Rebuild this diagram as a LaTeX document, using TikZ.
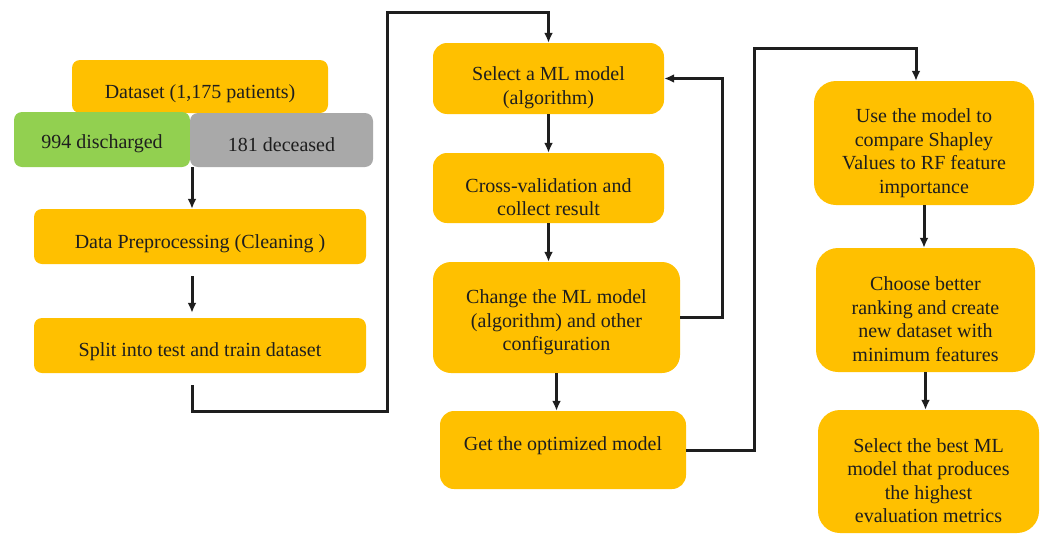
\documentclass[tikz,border=0pt]{standalone}
\usepackage{fontspec}
\setmainfont{Liberation Serif}
\usepackage{tikz}
\usetikzlibrary{arrows.meta,positioning}
\definecolor{mgold}{HTML}{FFC000}
\definecolor{mgreen}{HTML}{92D050}
\definecolor{mgrey}{HTML}{A9A9A9}
\definecolor{mink}{HTML}{1E1E1E}
\tikzstyle{box}=[rectangle, fill=mgold, rounded corners=8pt, inner sep=0pt]
\tikzstyle{box2}=[box, rounded corners=14pt]
\tikzstyle{box3}=[box, rounded corners=22pt]
\tikzstyle{txt}=[align=center, inner sep=0pt, text=mink, font=\fontsize{20}{23.5}\selectfont]
\tikzstyle{l1}=[line width=3pt, draw=mink, -{Latex[length=10pt,width=9pt]}]

\begin{document}
\begin{tikzpicture}[x=1pt, y=-1pt]
    \useasboundingbox (0,0) rectangle (1044,533);

    % left column
    \node (data) [box, minimum width=256, minimum height=53,
        label={[txt, yshift=-7]center:Dataset (1,175 patients)}] at (200,86.5) {};
    \node (dis) [box, fill=mgreen, minimum width=176, minimum height=55,
        label={[txt, yshift=-4]center:994 discharged}] at (102,139.5) {};
    \node (dec) [box, fill=mgrey, minimum width=183, minimum height=54,
        label={[txt, yshift=-5]center:181 deceased}] at (281.5,140) {};
    \node (prep) [box, minimum width=332, minimum height=55,
        label={[txt, yshift=-7]center:Data Preprocessing (Cleaning )}] at (200,236.5) {};
    \node (split) [box, minimum width=332, minimum height=55,
        label={[txt, yshift=-6]center:Split into test and train dataset}] at (200,345.5) {};
    \coordinate (ax) at (192,0);
    \coordinate (b1) at (387,12);

    % middle column
    \node (sel) [box2, minimum width=231, minimum height=71,
        label={[txt, yshift=-9]center:Select a ML model\\(algorithm)}] at (548.5,78.5) {};
    \node (cv) [box2, minimum width=231, minimum height=70,
        label={[txt, yshift=-9]center:Cross-validation and\\collect result}] at (548.5,188) {};
    \node (chg) [box2, rounded corners=18pt, minimum width=247, minimum height=111,
        label={[txt, yshift=-5]center:Change the ML model\\(algorithm) and other\\configuration}] at (556.5,317.5) {};
    \node (opt) [box2, minimum width=246, minimum height=78,
        label={[txt, yshift=4]center:Get the optimized model}] at (563,450) {};
    \coordinate (b2) at (916,48);

    % right column
    \node (use) [box3, minimum width=220, minimum height=124,
        label={[txt, yshift=-10]center:Use the model to\\compare Shapley\\Values to RF feature\\importance}] at (924,143) {};
    \node (rank) [box3, minimum width=219, minimum height=124,
        label={[txt, yshift=-9]center:Choose better\\ranking and create\\new dataset with\\minimum features}] at (925.5,310) {};
    \node (best) [box3, minimum width=221, minimum height=123,
        label={[txt, yshift=-9]center:Select the best ML\\model that produces\\the highest\\evaluation metrics}] at (928.5,471.5) {};

    \draw[l1] (dis.south -| ax) -- (prep.north -| ax);
    \draw[l1, shorten <=12pt, shorten >=5pt] (prep.south -| ax) -- (split.north -| ax);
    \draw[l1, shorten <=12pt] (split.south -| ax) -- ++(0,38) -| (b1) -| (sel.north);

    \draw[l1] (sel) -- (cv);
    \draw[l1] (cv.south) -- (cv.south |- chg.north);
    \draw[l1] (chg.south) -- (chg.south |- opt.north);
    \draw[l1] (chg.east) -- ++(42,0) |- (sel.east);
    \draw[l1] (opt.east) -- ++(68,0) |- (b2) -- (b2 |- use.north);

    \draw[l1] (use.south) -- (use.south |- rank.north);
    \draw[l1] (rank.south) -- (rank.south |- best.north);

\end{tikzpicture}
\end{document}
